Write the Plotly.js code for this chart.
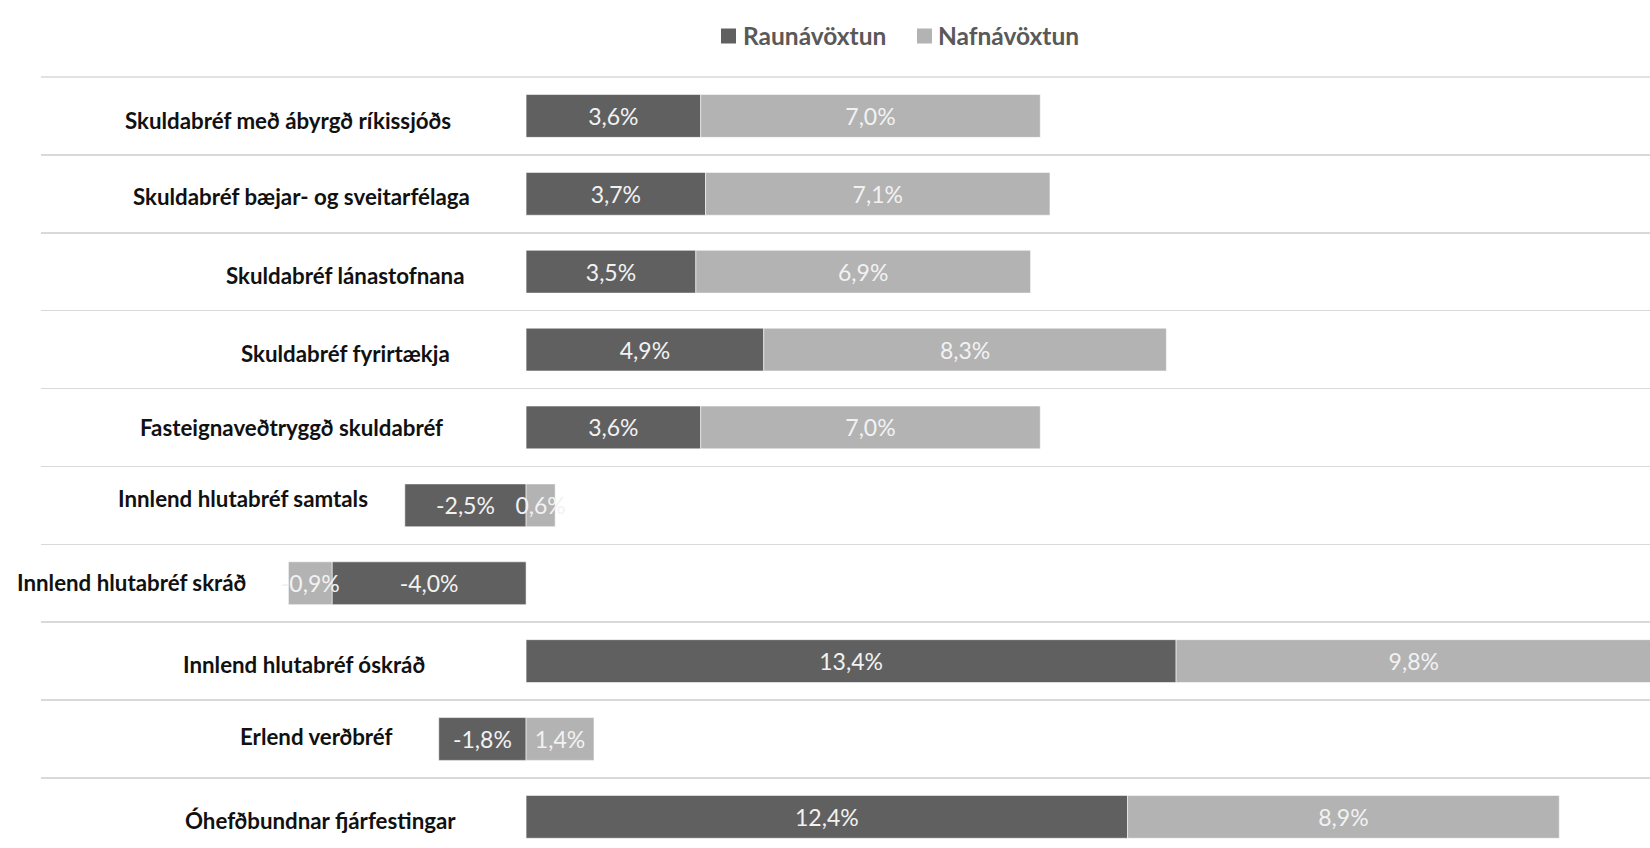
<!DOCTYPE html>
<html>
<head>
<meta charset="utf-8">
<script src="https://cdn.plot.ly/plotly-3.0.1.min.js"></script>
<style>
  html, body { margin: 0; padding: 0; background: #ffffff; overflow: hidden; }
  #chart { width: 1650px; height: 848px; }
</style>
</head>
<body>
<div id="chart"></div>
<script>
// ---- data ----
const categories = [
  "Skuldabréf með ábyrgð ríkissjóðs",
  "Skuldabréf bæjar- og sveitarfélaga",
  "Skuldabréf lánastofnana",
  "Skuldabréf fyrirtækja",
  "Fasteignaveðtryggð skuldabréf",
  "Innlend hlutabréf samtals",
  "Innlend hlutabréf skráð",
  "Innlend hlutabréf óskráð",
  "Erlend verðbréf",
  "Óhefðbundnar fjárfestingar"
];
const raunavoxtun = [3.6, 3.7, 3.5, 4.9, 3.6, -2.5, -4.0, 13.4, -1.8, 12.4];
const nafnavoxtun = [7.0, 7.1, 6.9, 8.3, 7.0, 0.6, -0.9, 9.8, 1.4, 8.9];
const seriesNames = ["Raunávöxtun", "Nafnávöxtun"];
const seriesColors = ["#606060", "#b3b3b3"];

// ---- layout / style ----
const W = 1650, H = 848;
const M = { l: 41, r: 0, t: 77, b: 0 };
const xRange = [-10, 23.17];
// label placement (pixel centre x, vertical shift in px) – layout only
const labelCenterPx = [288, 301, 345, 345, 291, 243, 131, 304, 316, 320];
const labelShift = [-5, -3, -4, -4, 0, 7, 1, -3, 2, -4];
// custom legend placement (pixels)
const legendSquareLeftPx = [721, 917];
const legendTextLeftPx = [741, 936];
const legendCenterYPx = 36;
const legendSquareSize = 15;

const plotW = W - M.l - M.r, plotH = H - M.t - M.b;
const pxToX = px => xRange[0] + (px - M.l) / plotW * (xRange[1] - xRange[0]);
const pxToPaperX = px => (px - M.l) / plotW;
const pxToPaperY = py => (H - M.b - py) / plotH;

const font = "Lato, 'Open Sans', sans-serif";
const barLine = { color: "rgba(255,255,255,0.55)", width: 1 };

const traces = [raunavoxtun, nafnavoxtun].map((vals, k) => ({
  type: "bar", orientation: "h", name: seriesNames[k],
  y: categories, x: vals,
  marker: { color: seriesColors[k], line: barLine },
  texttemplate: "%{x:.1f}%", textposition: "inside", insidetextanchor: "middle",
  textangle: 0, constraintext: "none",
  textfont: { family: font, size: 23, color: "#f2f2f2" },
  hoverinfo: "skip", showlegend: false
}));

const annotations = categories.map((c, i) => ({
  xref: "x", yref: "y", x: pxToX(labelCenterPx[i]), y: c,
  text: "<b>" + c + "</b>", showarrow: false,
  xanchor: "center", yanchor: "middle", yshift: labelShift[i],
  font: { family: font, size: 22.3, color: "#111111" }
}));

const shapes = [
  // top boundary grid line of the first category
  { type: "line", xref: "paper", yref: "paper", x0: 0, x1: 1, y0: 1, y1: 1,
    line: { color: "#d9d9d9", width: 1.5 } }
];

seriesNames.forEach((n, k) => {
  shapes.push({
    type: "rect", xref: "paper", yref: "paper",
    x0: pxToPaperX(legendSquareLeftPx[k]), x1: pxToPaperX(legendSquareLeftPx[k] + legendSquareSize),
    y0: pxToPaperY(legendCenterYPx + legendSquareSize / 2), y1: pxToPaperY(legendCenterYPx - legendSquareSize / 2),
    fillcolor: seriesColors[k], line: { width: 0 }
  });
  annotations.push({
    xref: "paper", yref: "paper",
    x: pxToPaperX(legendTextLeftPx[k]), y: pxToPaperY(legendCenterYPx),
    xanchor: "left", yanchor: "middle", showarrow: false,
    text: "<b>" + n + "</b>",
    font: { family: font, size: 24.5, color: "#595959", weight: "bold" }
  });
});

const layout = {
  width: W, height: H,
  margin: M,
  paper_bgcolor: "#ffffff", plot_bgcolor: "#ffffff",
  separators: ",.",
  barmode: "relative",
  bargap: 0.45,
  showlegend: false,
  xaxis: {
    range: xRange, showgrid: false, zeroline: false, showticklabels: false,
    showline: false, ticks: "", fixedrange: true
  },
  yaxis: {
    type: "category", categoryorder: "array", categoryarray: categories,
    range: [9.4, -0.5], tickson: "boundaries", ticks: "",
    showgrid: true, gridcolor: "#d9d9d9", gridwidth: 1.5,
    showticklabels: false, zeroline: false, showline: false, fixedrange: true
  },
  shapes: shapes,
  annotations: annotations
};

Plotly.newPlot("chart", traces, layout, { displayModeBar: false, staticPlot: true });
</script>
</body>
</html>
